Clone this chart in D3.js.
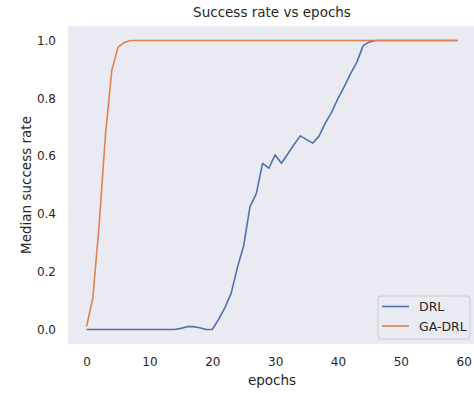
<!DOCTYPE html>
<html>
<head>
<meta charset="utf-8">
<script src="https://cdn.jsdelivr.net/npm/d3@7"></script>
<style>
  body { margin: 0; background: #fff; }
  text { font-family: "DejaVu Sans", sans-serif; fill: #262626; }
</style>
</head>
<body>
<script>
// data
var epochs = d3.range(0, 60);
var drl = [0, 0, 0, 0, 0, 0, 0, 0, 0, 0,
           0, 0, 0, 0, 0, 0.004, 0.01, 0.01, 0.006, 0,
           0, 0.035, 0.075, 0.125, 0.215, 0.29, 0.425, 0.47, 0.575, 0.558,
           0.604, 0.575, 0.607, 0.64, 0.67, 0.657, 0.645, 0.67, 0.715, 0.752,
           0.8, 0.84, 0.885, 0.925, 0.982, 0.995, 1, 1, 1, 1,
           1, 1, 1, 1, 1, 1, 1, 1, 1, 1];
var gaDrl = [0.01, 0.11, 0.36, 0.67, 0.895, 0.976, 0.993, 1, 1, 1];
while (gaDrl.length < epochs.length) gaDrl.push(1);

var seriesNames = ["DRL", "GA-DRL"];
var seriesColors = ["#4c72b0", "#dd8452"];
var xTicks = [0, 10, 20, 30, 40, 50, 60];
var yTicks = [0, 0.2, 0.4, 0.6, 0.8, 1.0];

var width = 474, height = 393;
var margin = { top: 26, right: -2, bottom: 49, left: 68 };
var w = width - margin.left - margin.right,
    h = height - margin.top - margin.bottom;

var svg = d3.select("body").append("svg")
    .attr("width", width).attr("height", height);

// the axes area runs off the right edge like the reference
var g = svg.append("g")
    .attr("transform", "translate(" + margin.left + "," + margin.top + ")");

var x = d3.scaleLinear().domain([-2.95, 61.95]).range([0, w]);
var y = d3.scaleLinear().domain([-0.05, 1.05]).range([h, 0]);

g.append("rect")
    .attr("width", w).attr("height", h)
    .attr("fill", "#eaeaf2");

var xAxis = g.append("g")
    .attr("transform", "translate(0," + h + ")")
    .call(d3.axisBottom(x).tickValues(xTicks).tickSize(0).tickPadding(13).tickFormat(d3.format("d")));
var yAxis = g.append("g")
    .call(d3.axisLeft(y).tickValues(yTicks).tickSize(0).tickPadding(12).tickFormat(d3.format(".1f")));
[xAxis, yAxis].forEach(function (a) {
  a.select(".domain").remove();
  a.selectAll("text").attr("font-size", 12).attr("font-family", "DejaVu Sans").attr("fill", "#262626");
});

var line = d3.line()
    .x(function (d, i) { return x(epochs[i]); })
    .y(function (d) { return y(d); });

[drl, gaDrl].forEach(function (s, i) {
  g.append("path")
      .datum(s)
      .attr("fill", "none")
      .attr("stroke", seriesColors[i])
      .attr("stroke-width", 1.6)
      .attr("stroke-linejoin", "round")
      .attr("d", line);
});

// title and labels
svg.append("text")
    .attr("x", margin.left + w / 2).attr("y", 16.5)
    .attr("text-anchor", "middle").attr("font-size", 13.5)
    .text("Success rate vs epochs");
svg.append("text")
    .attr("x", margin.left + w / 2).attr("y", 385)
    .attr("text-anchor", "middle").attr("font-size", 13.5)
    .text("epochs");
svg.append("text")
    .attr("transform", "translate(31," + (margin.top + h / 2) + ") rotate(-90)")
    .attr("text-anchor", "middle").attr("font-size", 13.5)
    .text("Median success rate");

// legend
var legend = svg.append("g").attr("transform", "translate(378,296)");
legend.append("rect")
    .attr("width", 92).attr("height", 43).attr("rx", 3)
    .attr("fill", "#eaeaf2").attr("fill-opacity", 0.8)
    .attr("stroke", "#cccccc").attr("stroke-width", 1);
seriesNames.forEach(function (name, i) {
  var row = legend.append("g").attr("transform", "translate(0," + (10.5 + i * 19.5) + ")");
  row.append("line")
      .attr("x1", 4).attr("x2", 31)
      .attr("stroke", seriesColors[i]).attr("stroke-width", 1.6);
  row.append("text")
      .attr("x", 41).attr("y", 4.5)
      .attr("font-size", 12.5)
      .text(name);
});
</script>
</body>
</html>
